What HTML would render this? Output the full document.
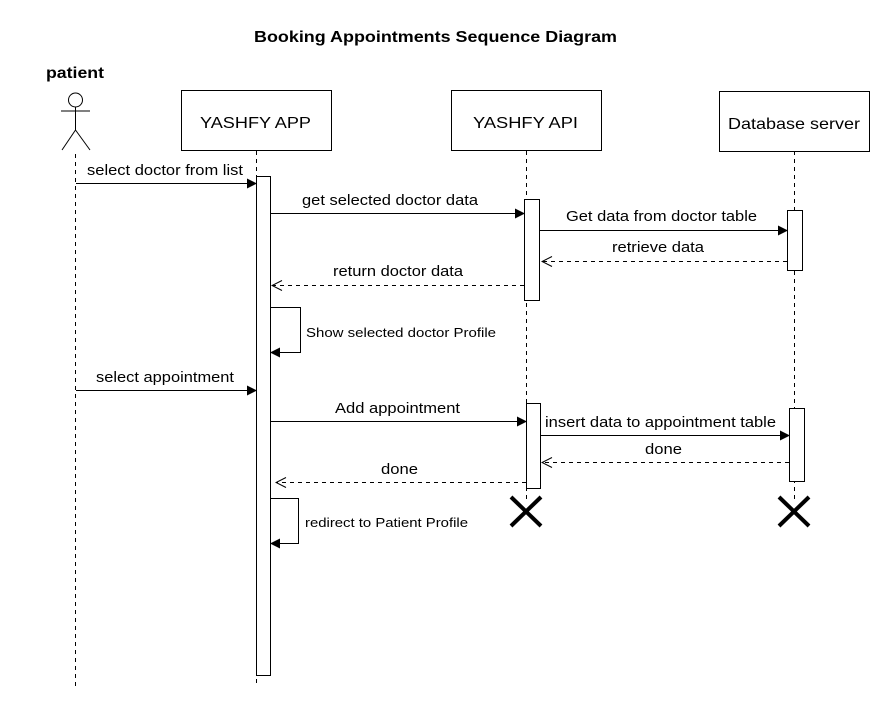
<!DOCTYPE html>
<html><head><meta charset="utf-8"><style>
html,body{margin:0;padding:0;background:#fff;}
svg text{font-family:"Liberation Sans",Arial,sans-serif;fill:#000;}
</style></head><body>
<svg width="885" height="707" viewBox="0 0 885 707" xmlns="http://www.w3.org/2000/svg">
<defs>
<marker id="f" markerWidth="10" markerHeight="10" refX="9" refY="5" orient="auto" markerUnits="userSpaceOnUse"><path d="M0,0 L10,5 L0,10 Z" fill="#000"/></marker>
<marker id="o" markerWidth="12" markerHeight="12" refX="11" refY="6" orient="auto" markerUnits="userSpaceOnUse"><path d="M1,1 L11,6 L1,11" fill="none" stroke="#000" stroke-width="1"/></marker>
</defs>
<rect width="885" height="707" fill="#fff"/>
<text x="254" y="42" font-size="16" font-weight="bold" textLength="363" lengthAdjust="spacingAndGlyphs">Booking Appointments Sequence Diagram</text>
<text x="46" y="78" font-size="16" font-weight="bold" textLength="58" lengthAdjust="spacingAndGlyphs">patient</text>
<g stroke="#000" stroke-width="1" fill="none">
<circle cx="75.5" cy="100" r="7"/>
<line x1="75.5" y1="107" x2="75.5" y2="130"/>
<line x1="61" y1="111" x2="90" y2="111"/>
<line x1="75.5" y1="130" x2="62" y2="150"/>
<line x1="75.5" y1="130" x2="90" y2="150"/>
</g>
<g stroke="#000" stroke-width="1" stroke-dasharray="4,4" fill="none">
<line x1="75.5" y1="154" x2="75.5" y2="686"/>
<line x1="256.5" y1="151" x2="256.5" y2="686"/>
<line x1="526.5" y1="151" x2="526.5" y2="500"/>
<line x1="794.5" y1="151" x2="794.5" y2="500"/>
</g>
<g stroke="#000" stroke-width="1" fill="#fff">
<rect x="181.5" y="90.5" width="150" height="60"/>
<rect x="451.5" y="90.5" width="150" height="60"/>
<rect x="719.5" y="91.5" width="150" height="60"/>
<rect x="256.5" y="176.5" width="14" height="499"/>
<rect x="524.5" y="199.5" width="15" height="101"/>
<rect x="787.5" y="210.5" width="15" height="60"/>
<rect x="526.5" y="403.5" width="14" height="85"/>
<rect x="789.5" y="408.5" width="15" height="73"/>
</g>
<text x="200" y="128" font-size="16" textLength="111" lengthAdjust="spacingAndGlyphs">YASHFY APP</text>
<text x="473" y="128" font-size="16" textLength="105" lengthAdjust="spacingAndGlyphs">YASHFY API</text>
<text x="728" y="129" font-size="16" textLength="132" lengthAdjust="spacingAndGlyphs">Database server</text>
<g stroke="#000" stroke-width="1" fill="none">
<line x1="76" y1="183.5" x2="256" y2="183.5" marker-end="url(#f)"/>
<line x1="271" y1="213.5" x2="524" y2="213.5" marker-end="url(#f)"/>
<line x1="540" y1="230.5" x2="787" y2="230.5" marker-end="url(#f)"/>
<line x1="787" y1="261.5" x2="542" y2="261.5" stroke-dasharray="4,4" marker-end="url(#o)"/>
<line x1="524" y1="285.5" x2="272" y2="285.5" stroke-dasharray="4,4" marker-end="url(#o)"/>
<polyline points="271,307.5 300.5,307.5 300.5,352.5 271,352.5" marker-end="url(#f)"/>
<line x1="76" y1="390.5" x2="256" y2="390.5" marker-end="url(#f)"/>
<line x1="271" y1="421.5" x2="526" y2="421.5" marker-end="url(#f)"/>
<line x1="541" y1="435.5" x2="789" y2="435.5" marker-end="url(#f)"/>
<line x1="789" y1="462.5" x2="542" y2="462.5" stroke-dasharray="4,4" marker-end="url(#o)"/>
<line x1="526" y1="482.5" x2="276" y2="482.5" stroke-dasharray="4,4" marker-end="url(#o)"/>
<polyline points="271,498.5 298.5,498.5 298.5,543.5 271,543.5" marker-end="url(#f)"/>
</g>
<g stroke="#000" stroke-width="4">
<line x1="511" y1="497" x2="541" y2="526"/><line x1="541" y1="497" x2="511" y2="526"/>
<line x1="779" y1="497" x2="809" y2="526"/><line x1="809" y1="497" x2="779" y2="526"/>
</g>
<g font-size="15" lengthAdjust="spacingAndGlyphs">
<text x="87" y="175" textLength="156" lengthAdjust="spacingAndGlyphs">select doctor from list</text>
<text x="302" y="205" textLength="176" lengthAdjust="spacingAndGlyphs">get selected doctor data</text>
<text x="566" y="221" textLength="191" lengthAdjust="spacingAndGlyphs">Get data from doctor table</text>
<text x="612" y="252" textLength="92" lengthAdjust="spacingAndGlyphs">retrieve data</text>
<text x="333" y="276" textLength="130" lengthAdjust="spacingAndGlyphs">return doctor data</text>
<text x="96" y="382" textLength="138" lengthAdjust="spacingAndGlyphs">select appointment</text>
<text x="335" y="413" textLength="125" lengthAdjust="spacingAndGlyphs">Add appointment</text>
<text x="545" y="427" textLength="231" lengthAdjust="spacingAndGlyphs">insert data to appointment table</text>
<text x="645" y="454" textLength="37" lengthAdjust="spacingAndGlyphs">done</text>
<text x="381" y="474" textLength="37" lengthAdjust="spacingAndGlyphs">done</text>
</g>
<text x="306" y="337" font-size="13" textLength="190" lengthAdjust="spacingAndGlyphs">Show selected doctor Profile</text>
<text x="305" y="527" font-size="13" textLength="163" lengthAdjust="spacingAndGlyphs">redirect to Patient Profile</text>
</svg>
</body></html>
